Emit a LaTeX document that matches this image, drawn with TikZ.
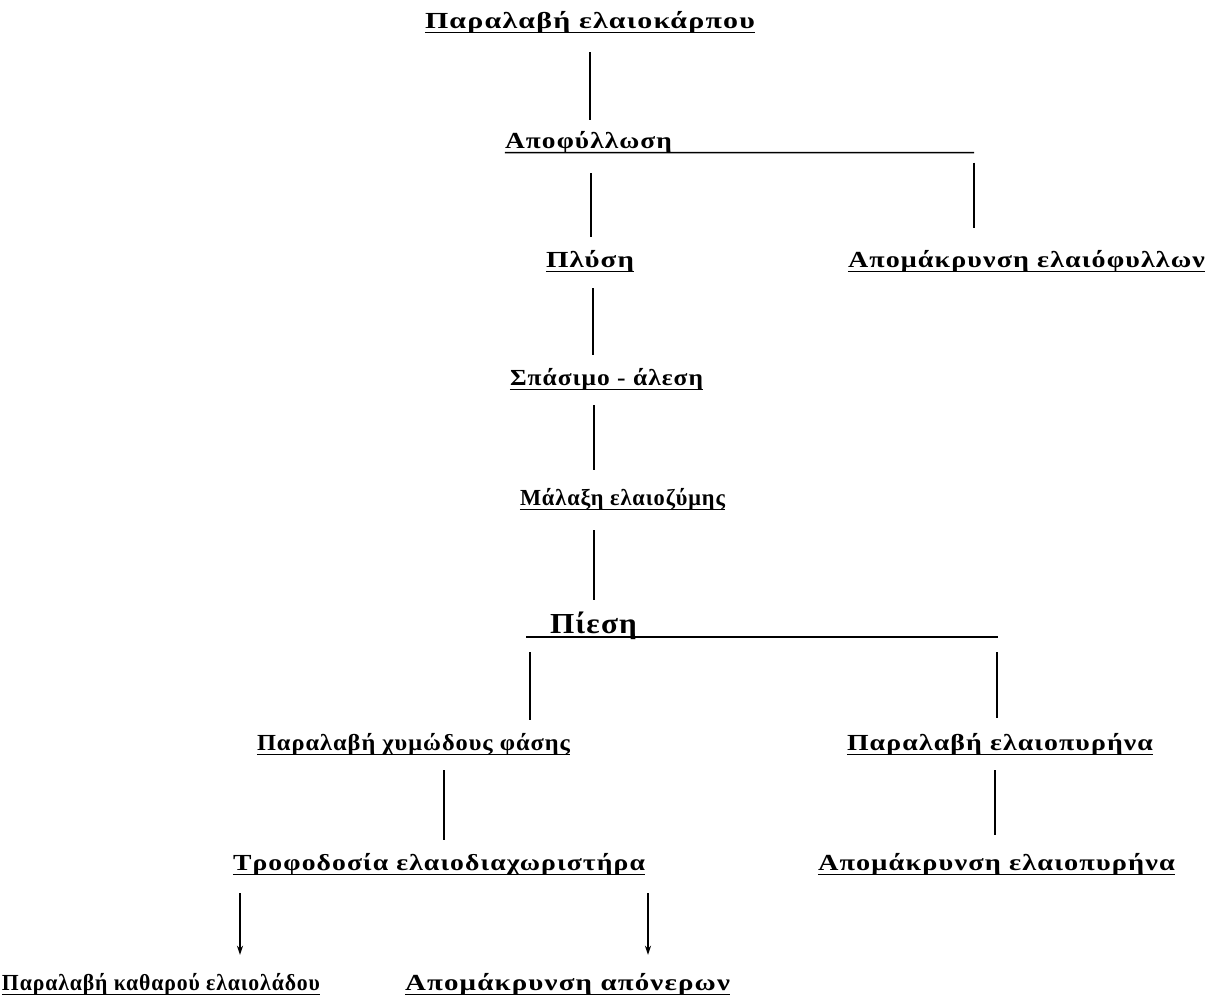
\documentclass[tikz,border=0pt]{standalone}
\usepackage{fontspec}
\usepackage{graphicx}
\newfontfamily\grfont{Liberation Serif}[LetterSpace=4]
\usetikzlibrary{arrows.meta}
\newsavebox\fitbox
\newcommand\fitto[2]{\sbox\fitbox{#2}\pgfmathsetmacro\fitr{#1/\the\wd\fitbox}\scalebox{\fitr}[1]{\usebox\fitbox}}
\begin{document}
\begin{tikzpicture}[x=1pt,y=-1pt,
  lab/.style={inner sep=0pt, text height=15pt, text depth=4pt, font=\grfont\bfseries\fontsize{23}{26}\selectfont},
  big/.style={inner sep=0pt, text height=20pt, text depth=4pt, font=\grfont\bfseries\fontsize{29}{31}\selectfont},
  conn/.style={line width=2.2pt},
  arr/.style={line width=1.6pt, -{Stealth[length=9pt,width=6pt]}},
  ul/.style={line width=1.5pt}]
\useasboundingbox (0,0) rectangle (1215,998);
% nodes
\node[lab] (n1) at (590,23) {\fitto{330}{Παραλαβή ελαιοκάρπου}};
\node[lab] (n2) at (588.5,143) {\fitto{167}{Αποφύλλωση}};
\node[lab] (n3) at (590,262) {\fitto{88}{Πλύση}};
\node[lab] (n4) at (1026.5,262) {\fitto{357}{Απομάκρυνση ελαιόφυλλων}};
\node[lab] (n5) at (606.5,380) {\fitto{193}{Σπάσιμο - άλεση}};
\node[lab] (n6) at (622.5,500) {\fitto{205}{Μάλαξη ελαιοζύμης}};
\node[big] (n7) at (593.5,625) {\fitto{87}{Πίεση}};
\node[lab] (n8) at (413.5,745) {\fitto{313}{Παραλαβή χυμώδους φάσης}};
\node[lab] (n9) at (1000,745) {\fitto{306}{Παραλαβή ελαιοπυρήνα}};
\node[lab] (n10) at (439,865) {\fitto{412}{Τροφοδοσία ελαιοδιαχωριστήρα}};
\node[lab] (n11) at (996.5,865) {\fitto{357}{Απομάκρυνση ελαιοπυρήνα}};
\node[lab] (n12) at (161,985) {\fitto{318}{Παραλαβή καθαρού ελαιολάδου}};
\node[lab] (n13) at (567.5,985) {\fitto{325}{Απομάκρυνση απόνερων}};
% underlines
\coordinate (e2) at (974,152.5);
\coordinate (p7l) at (526,637);
\coordinate (p7r) at (998,637);
\coordinate (b7l) at (530,637);
\coordinate (b7r) at (997,637);
\foreach \n in {n1,n3,n4,n5,n6,n8,n9,n10,n11,n12,n13}
  \draw[ul] (\n.south west) -- (\n.south east);
\draw[ul] (n2.south west) -- (e2);
\draw[ul] (p7l) -- (p7r);
% connectors
\draw[conn, shorten <=19.5pt, shorten >=13.5pt] (n1.south) -- (n1.south |- n2.north);
\draw[conn, shorten <=20.5pt, shorten >=15.5pt] ([xshift=2.5pt]n2.south) -- ([xshift=2.5pt]n2.south |- n3.north);
\draw[conn, shorten <=10pt, shorten >=24.5pt] (e2) -- (e2 |- n4.north);
\draw[conn, shorten <=16.5pt, shorten >=15.5pt] ([xshift=3pt]n3.south) -- ([xshift=3pt]n3.south |- n5.north);
\draw[conn, shorten <=15.5pt, shorten >=20.5pt] ([xshift=-12.5pt]n5.south) -- ([xshift=-12.5pt]n5.south |- n6.north);
\draw[conn, shorten <=20.5pt, shorten >=13pt] ([xshift=-28.5pt]n6.south) -- ([xshift=-28.5pt]n6.south |- n7.north);
\draw[conn, shorten <=15pt, shorten >=15.5pt] (b7l) -- (b7l |- n8.north);
\draw[conn, shorten <=15pt, shorten >=17.5pt] (b7r) -- (b7r |- n9.north);
\draw[conn, shorten <=15.5pt, shorten >=15.5pt] ([xshift=30.5pt]n8.south) -- ([xshift=30.5pt]n8.south |- n10.north);
\draw[conn, shorten <=15.5pt, shorten >=20.5pt] ([xshift=-5pt]n9.south) -- ([xshift=-5pt]n9.south |- n11.north);
\draw[arr, shorten <=18.5pt, shorten >=20.5pt] ([xshift=-199pt]n10.south) -- ([xshift=-199pt]n10.south |- n12.north);
\draw[arr, shorten <=18.5pt, shorten >=20.5pt] ([xshift=209pt]n10.south) -- ([xshift=209pt]n10.south |- n13.north);
\end{tikzpicture}
\end{document}
